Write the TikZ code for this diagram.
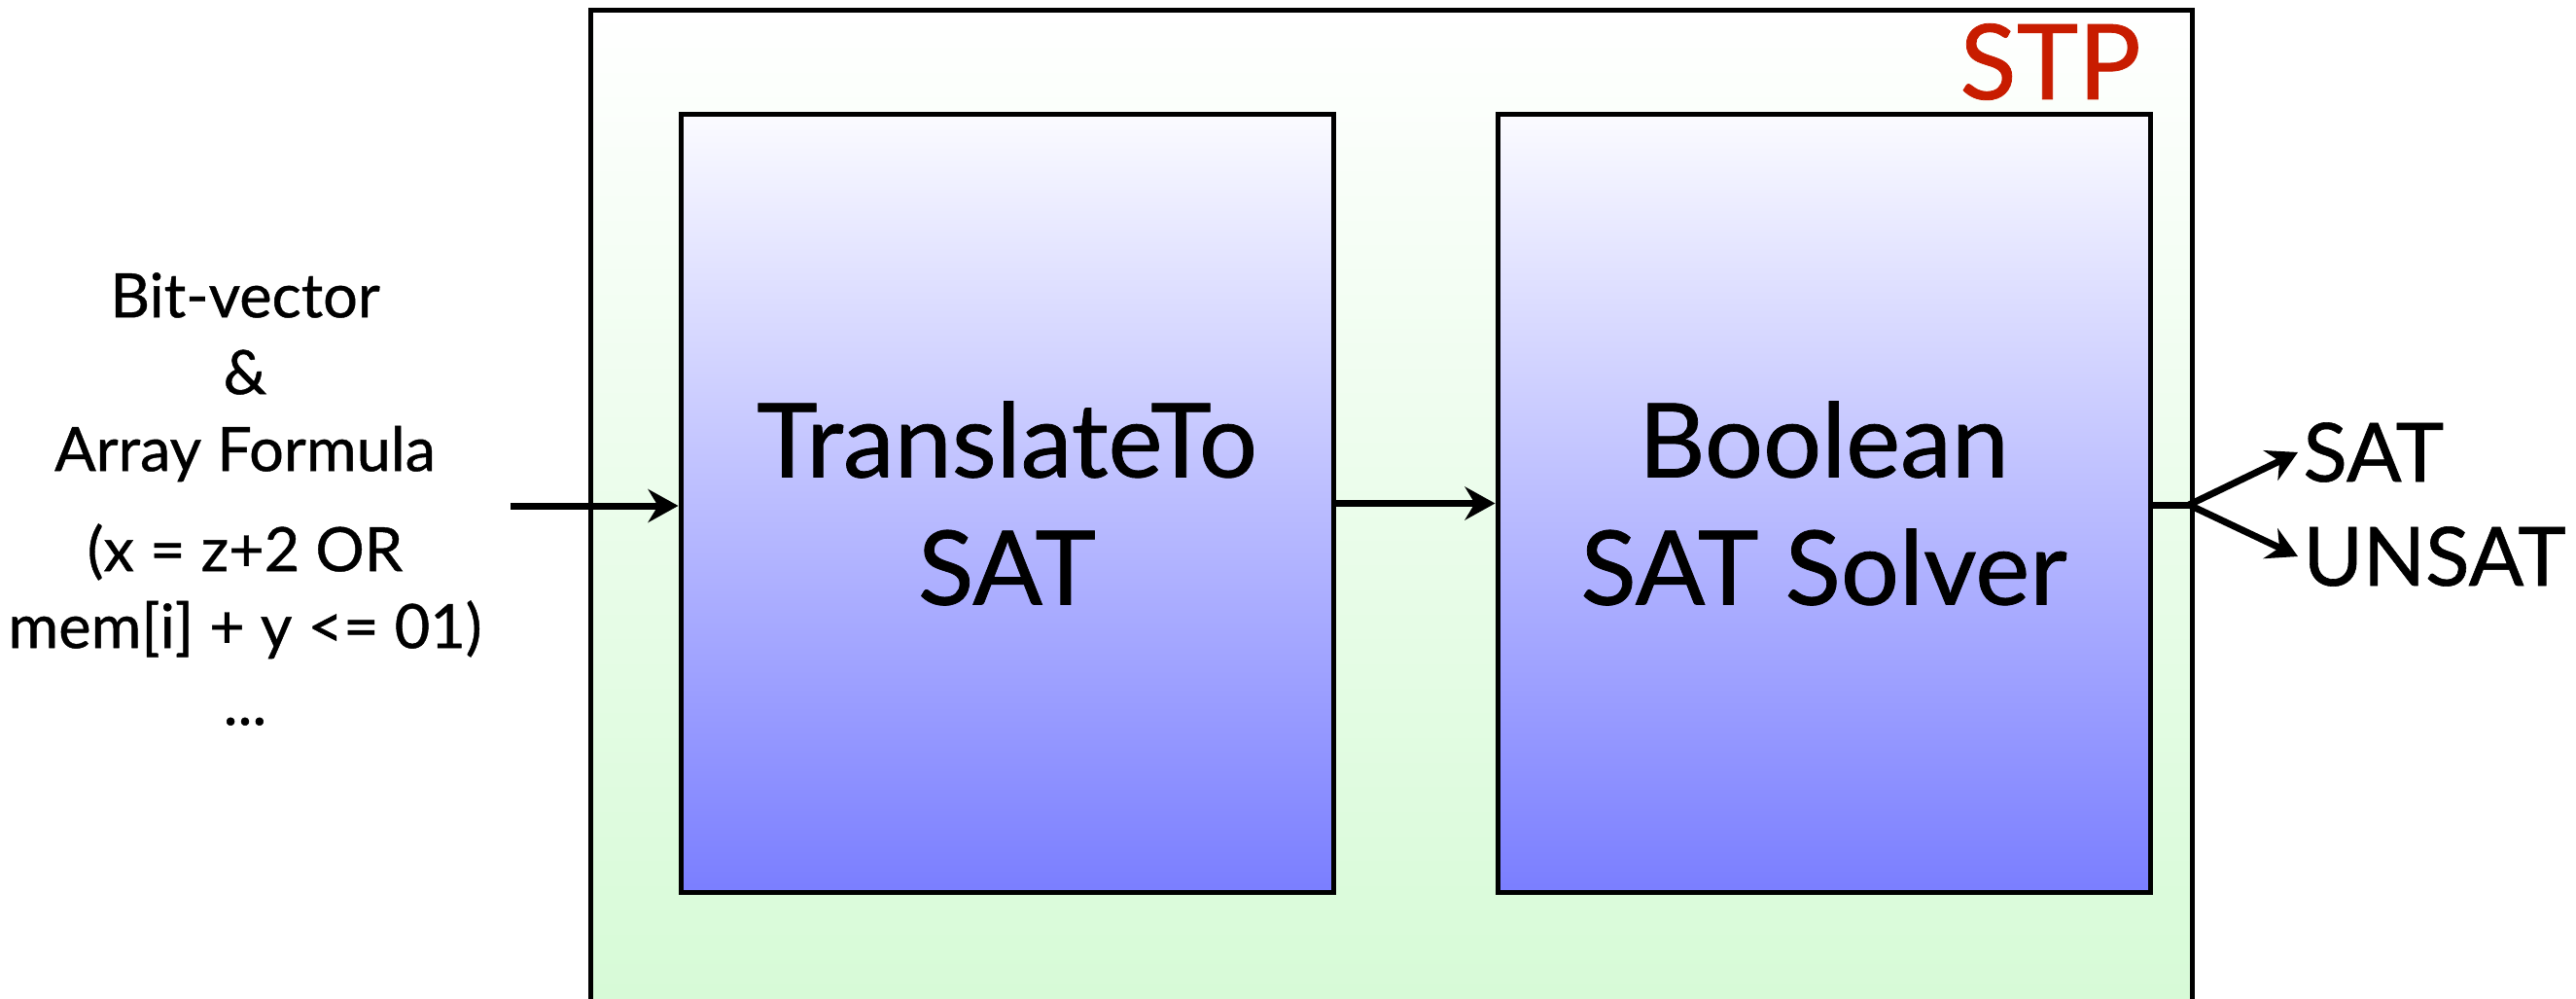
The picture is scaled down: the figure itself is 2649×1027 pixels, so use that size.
\documentclass[tikz,border=0pt]{standalone}
\usepackage{fontspec}
\setmainfont{Lato}[RawFeature={embolden=0.7}]
\usetikzlibrary{arrows.meta}
\definecolor{stpred}{RGB}{200,28,0}
\definecolor{boxtop}{RGB}{251,251,255}
\definecolor{boxbot}{RGB}{122,126,255}
\definecolor{envtop}{RGB}{255,255,255}
\definecolor{envbot}{RGB}{212,250,212}

\begin{document}
\begin{tikzpicture}[x=0.5pt,y=-0.5pt,
  stage/.style={draw=black, line width=2.5pt, top color=boxtop, bottom color=boxbot,
    minimum width=335.5pt, minimum height=400pt, inner sep=0pt, align=center,
    font=\fontsize{53}{65.5}\selectfont},
  flow/.style={line width=3.5pt, -{Stealth[length=15.5pt,width=17pt]}},
  result/.style={anchor=base west, inner xsep=2.5pt, inner ysep=0pt,
    font=\fontsize{41.9}{50}\selectfont}]
\useasboundingbox (0,0) rectangle (2649,1027);
\clip (0,0) rectangle (2649,1027);

% enclosing STP block (runs past the lower edge)
\node[draw, line width=2.5pt, top color=envtop, bottom color=envbot,
  minimum width=823.5pt, minimum height=544.5pt, inner sep=0pt] (stp) at (1431,555.5) {};
\node[anchor=base east, text=stpred, inner sep=0pt, font=\fontsize{53.7}{60}\selectfont]
  (stplabel) at (2202,102) {STP};

% processing stages
\node[stage] (xlate) at (1035.5,517.5) {TranslateTo\\SAT};
\node[stage] (solver) at (1875.5,517.5) {Boolean\\SAT Solver};

% input formula
\node[align=center, inner sep=0pt, font=\fontsize{31.5}{39.5}\selectfont] (formula) at (252,513)
  {Bit-vector\\\&\\Array Formula\\[12pt](x = z+2 OR\\mem[i] + y <= 01)\\...};

% results
\node[result] (sat) at (2363,495) {SAT};
\node[result] (unsat) at (2363,602) {UNSAT};

% connectors
\coordinate (src) at (525,520);
\coordinate (fork) at (2251,519);
\draw[flow] (src) -- (src -| xlate.west);
\draw[flow] (xlate.east) -- (solver.west);
\draw[line width=3.5pt] (solver.east |- fork) -- (fork);
\draw[flow, line join=round] (fork) -- (sat.west);
\draw[flow, line join=round] (fork) -- (unsat.west);
\end{tikzpicture}
\end{document}
